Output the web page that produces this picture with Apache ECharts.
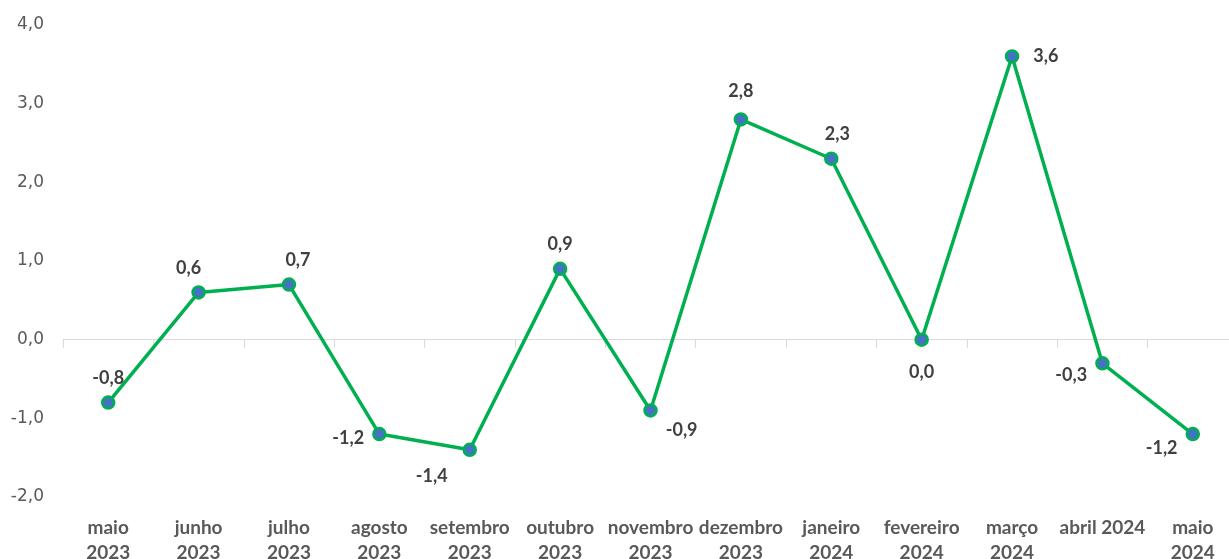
<!DOCTYPE html>
<html>
<head>
<meta charset="utf-8">
<script src="https://cdn.jsdelivr.net/npm/echarts@6/dist/echarts.min.js"></script>
<style>html,body{margin:0;padding:0;background:#fff}#c{width:1229px;height:559px}</style>
</head>
<body>
<div id="c"></div>
<script>
var categories = ["maio\n2023","junho\n2023","julho\n2023","agosto\n2023","setembro\n2023","outubro\n2023","novembro\n2023","dezembro\n2023","janeiro\n2024","fevereiro\n2024","março\n2024","abril 2024","maio\n2024"];
var values = [-0.8, 0.6, 0.7, -1.2, -1.4, 0.9, -0.9, 2.8, 2.3, 0.0, 3.6, -0.3, -1.2];
var labelPlacement = [
  {position:'top'}, {position:'top', offset:[-10,0]}, {position:'top', offset:[9,0]},
  {position:'left', offset:[0,4]}, {position:'bottom', offset:[-38,2]}, {position:'top'},
  {position:'right', offset:[0,20]}, {position:'top', offset:[0,-4]}, {position:'top', offset:[6,0]},
  {position:'bottom', offset:[0,8]}, {position:'right', offset:[6,0]}, {position:'left', offset:[0,12]},
  {position:'left', offset:[0,14]}
];
var fmt = function(v){ return Number(v).toFixed(1).replace('.', ','); };
var chart = echarts.init(document.getElementById('c'));
var data = values.map(function(v,i){
  return {value:v, label:Object.assign({}, labelPlacement[i])};
});
chart.setOption({
  animation:false,
  grid:{left:63, right:-9, top:25, bottom:62, containLabel:false, outerBoundsMode:'none'},
  xAxis:[{
    type:'category', data:categories, boundaryGap:true,
    axisLine:{onZero:true, lineStyle:{color:'#D9D9D9', width:1}},
    axisTick:{show:true, length:8, lineStyle:{color:'#D9D9D9'}},
    axisLabel:{show:false}, splitLine:{show:false}
  },{
    type:'category', data:categories, position:'bottom', boundaryGap:true,
    axisLine:{show:false}, axisTick:{show:false}, splitLine:{show:false},
    axisLabel:{interval:0, margin:18, color:'#595959', fontFamily:'Lato', fontWeight:'bold', fontSize:19, lineHeight:25}
  }],
  yAxis:{
    type:'value', min:-2, max:4, interval:1,
    axisLine:{show:false}, axisTick:{show:false}, splitLine:{show:false},
    axisLabel:{formatter:fmt, color:'#595959', fontFamily:'DejaVu Sans', fontSize:17, margin:19}
  },
  series:[{
    type:'line', xAxisIndex:0, data:data,
    lineStyle:{color:'#00B050', width:3.5},
    symbol:'circle', symbolSize:12,
    itemStyle:{color:'#4472C4', borderColor:'#00B050', borderWidth:2.5},
    label:{show:true, formatter:function(p){return fmt(p.value);}, color:'#404040', fontFamily:'Lato', fontWeight:'bold', fontSize:18, distance:8}
  }]
});
</script>
</body>
</html>
